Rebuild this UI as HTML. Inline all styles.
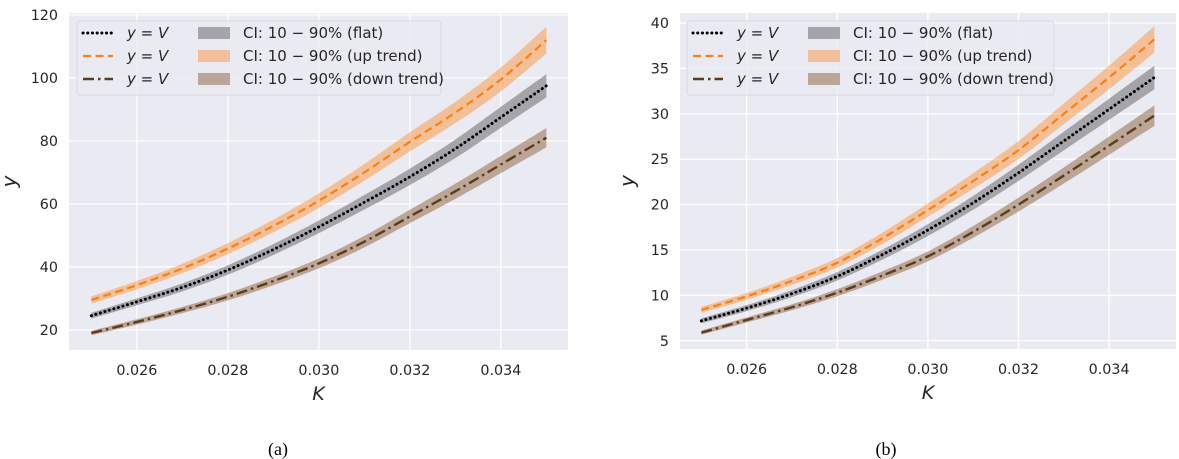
<!DOCTYPE html>
<html><head><meta charset="utf-8">
<style>
html,body{margin:0;padding:0;background:#fff;}
svg{display:block;font-family:"DejaVu Sans","Liberation Sans",sans-serif;}
</style></head>
<body>
<svg id="chart" width="1179" height="459" viewBox="0 0 1179 459" xmlns="http://www.w3.org/2000/svg"></svg>
<script>
// ---------- data ----------
const kValues = [0.025,0.026,0.027,0.028,0.029,0.030,0.031,0.032,0.033,0.034,0.035];
const xTicks = [0.026,0.028,0.030,0.032,0.034];
const xTickLabels = ["0.026","0.028","0.030","0.032","0.034"];
// panel (a)
const aFlat = [24.5,28.9,33.5,39,45.5,52.7,60.5,68.6,77.5,87.5,97.5];
const aUp   = [29.5,34.2,39.5,45.8,53,61,70,79.7,89,99.5,112];
const aDown = [19,22.5,26.3,30.5,35.5,41.1,48,56,64,72.5,81];
const aYTicks = [20,40,60,80,100,120];
// panel (b)
const bFlat = [7.2,8.6,10.2,12.1,14.5,17.2,20.2,23.5,27,30.5,34];
const bUp   = [8.4,9.9,11.6,13.6,16.3,19.4,22.6,26,30,34,38.2];
const bDown = [5.9,7.3,8.7,10.3,12.2,14.3,17,20,23.2,26.5,29.8];
const bYTicks = [5,10,15,20,25,30,35,40];
const bandFrac = 0.038;

const NS="http://www.w3.org/2000/svg";
const svg=document.getElementById('chart');
function mk(tag,attrs,parent){const e=document.createElementNS(NS,tag);for(const k in attrs)e.setAttribute(k,attrs[k]);(parent||svg).appendChild(e);return e;}

function panel(cfg){
  const g=mk('g',{});
  
  
  const {x0,x1,y0,y1,kmin,kmax,vmin,vmax}=cfg;
  const sx=k=>x0+(k-kmin)/(kmax-kmin)*(x1-x0);
  const sy=v=>y1-(v-vmin)/(vmax-vmin)*(y1-y0);
  const bg=mk('rect',{x:x0,y:y0,width:x1-x0,height:y1-y0,fill:'#eaeaf2'},g);
  
  
  xTicks.forEach((t,i)=>{
    const l=mk('line',{x1:sx(t),x2:sx(t),y1:y0,y2:y1,stroke:'#fff','stroke-width':1.3},g);
    
    
    const tx=mk('text',{x:sx(t),y:y1+25,'text-anchor':'middle','font-size':14.3,fill:'#262626'},g);
    tx.textContent=xTickLabels[i];
    
    
  });
  cfg.yTicks.forEach(t=>{
    const l=mk('line',{x1:x0,x2:x1,y1:sy(t),y2:sy(t),stroke:'#fff','stroke-width':1.3},g);
    
    
    const tx=mk('text',{x:x0-11,y:sy(t)+5,'text-anchor':'end','font-size':14.3,fill:'#262626'},g);
    tx.textContent=String(t);
    
    
  });
  const series=[
    {d:cfg.flat,line:'#000',band:'rgba(95,95,95,0.5)',dash:'0.1 4.6',w:3,cap:'round',n:'flat'},
    {d:cfg.up,line:'#ff7f0e',band:'rgba(255,127,14,0.4)',dash:'8 4.5',w:2.2,cap:'butt',n:'up-trend'},
    {d:cfg.down,line:'#5e3c14',band:'rgba(140,95,60,0.5)',dash:'11 4 2.5 4',w:2.4,cap:'butt',n:'down-trend'}
  ];
  function curve(pts){
    let s='M'+pts[0][0]+','+pts[0][1];
    for(let i=0;i<pts.length-1;i++){
      const p0=pts[Math.max(0,i-1)],p1=pts[i],p2=pts[i+1],p3=pts[Math.min(pts.length-1,i+2)];
      s+=' C'+(p1[0]+(p2[0]-p0[0])/6)+','+(p1[1]+(p2[1]-p0[1])/6)+' '+(p2[0]-(p3[0]-p1[0])/6)+','+(p2[1]-(p3[1]-p1[1])/6)+' '+p2[0]+','+p2[1];
    }
    return s;
  }
  series.forEach(s=>{
    const hi=kValues.map((k,i)=>[sx(k),sy(s.d[i]*(1+bandFrac))]);
    const lo=kValues.map((k,i)=>[sx(k),sy(s.d[i]*(1-bandFrac))]).reverse();
    const p=mk('path',{d:curve(hi)+' L'+curve(lo).slice(1)+' Z',fill:s.band},g);
    
    
  });
  series.forEach(s=>{
    const pts=kValues.map((k,i)=>[sx(k),sy(s.d[i])]);
    const p=mk('path',{d:curve(pts),fill:'none',stroke:s.line,'stroke-width':s.w,'stroke-dasharray':s.dash,'stroke-linecap':s.cap},g);
    
    
  });
  const lx=cfg.lx, lw=cfg.lw;
  const leg=mk('g',{},g);
  
  
  mk('rect',{x:lx,y:21,width:lw,height:74,rx:3,fill:'rgba(234,234,242,0.8)',stroke:'#d8d8e0','stroke-width':1},leg);
  const labels=['CI: 10 \u2212 90% (flat)','CI: 10 \u2212 90% (up trend)','CI: 10 \u2212 90% (down trend)'];
  series.forEach((s,i)=>{
    const yy=33+i*23;
    const e=mk('g',{},leg);
    
    
    mk('line',{x1:lx+6,x2:lx+36,y1:yy,y2:yy,stroke:s.line,'stroke-width':s.w,'stroke-dasharray':s.dash,'stroke-linecap':s.cap},e);
    const t=mk('text',{x:lx+50,y:yy+5,'font-size':15,fill:'#262626'},e);
    t.innerHTML='<tspan font-style="italic">y</tspan> = <tspan font-style="italic">V</tspan>';
    mk('rect',{x:lx+121,y:yy-6,width:32,height:12,fill:s.band},e);
    const t2=mk('text',{x:lx+166,y:yy+5,'font-size':15,fill:'#262626'},e);
    t2.textContent=labels[i];
  });
  const xl=mk('text',{x:(x0+x1)/2,y:y1+50,'text-anchor':'middle','font-size':19,'font-style':'italic',fill:'#262626'},g);
  xl.textContent='K';
  
  
  const yl=mk('text',{x:cfg.ylx,y:(y0+y1)/2,'text-anchor':'middle','font-size':20,'font-style':'italic',fill:'#262626',transform:'rotate(-90 '+cfg.ylx+' '+((y0+y1)/2)+')'},g);
  yl.textContent='y';
  
  
  const cap=mk('text',{x:cfg.capx,y:455,'text-anchor':'middle','font-size':18,'font-family':'"Liberation Serif",serif',fill:'#000'},g);
  cap.textContent=cfg.caption;
  
  
}

panel({name:'panel-a',x0:69,x1:568,y0:13,y1:350,kmin:0.024508,kmax:0.035475,vmin:13.6,vmax:120.6,
  yTicks:aYTicks,flat:aFlat,up:aUp,down:aDown,lx:77,lw:364,ylx:16,capx:278,caption:'(a)'});
panel({name:'panel-b',x0:680,x1:1176,y0:13,y1:349,kmin:0.024528,kmax:0.035477,vmin:4.1,vmax:41.1,
  yTicks:bYTicks,flat:bFlat,up:bUp,down:bDown,lx:687,lw:367,ylx:634,capx:886,caption:'(b)'});
</script>
</body></html>
